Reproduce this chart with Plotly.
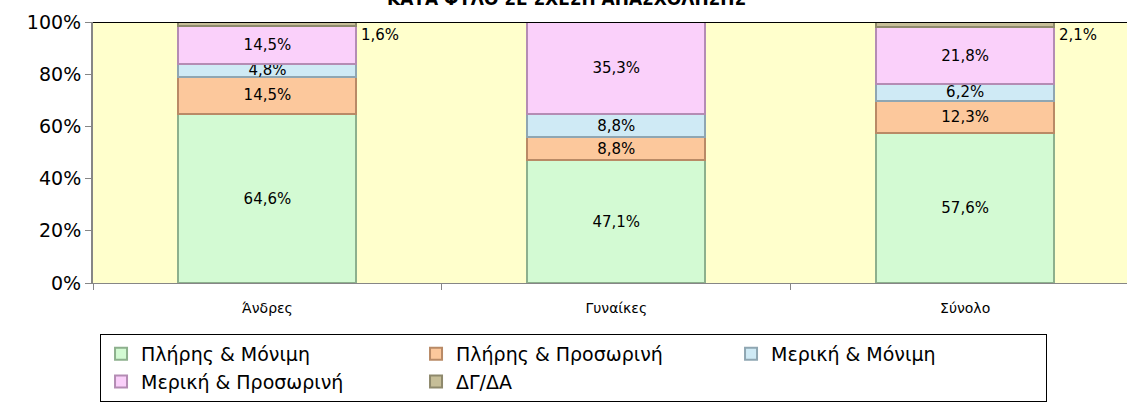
import plotly.graph_objects as go

categories = ["Άνδρες", "Γυναίκες", "Σύνολο"]
series_names = ["Πλήρης & Μόνιμη", "Πλήρης & Προσωρινή", "Μερική & Μόνιμη",
                "Μερική & Προσωρινή", "ΔΓ/ΔΑ"]
full_perm = [64.6, 47.1, 57.6]
full_temp = [14.5, 8.8, 12.3]
part_perm = [4.8, 8.8, 6.2]
part_temp = [14.5, 35.3, 21.8]
na_vals = [1.6, 0.0, 2.1]
y_ticks = [0, 20, 40, 60, 80, 100]
y_tick_labels = ["0%", "20%", "40%", "60%", "80%", "100%"]
title_text = "ΚΑΤΑ ΦΥΛΟ ΣΕ ΣΧΕΣΗ ΑΠΑΣΧΟΛΗΣΗΣ"

FONT = "DejaVu Sans"
fills = ["#D3FAD3", "#FCC89C", "#CFEAF5", "#FAD0FA", "#C6BE98"]
lines = ["#8DB08D", "#B98A66", "#8FA6B2", "#B48CB4", "#8E896C"]

fig = go.Figure()
all_series = [full_perm, full_temp, part_perm, part_temp, na_vals]
for i, (name, vals) in enumerate(zip(series_names, all_series)):
    show_text = i < 4
    fig.add_trace(go.Bar(
        x=categories, y=vals, name=name, width=0.51,
        marker=dict(color=fills[i], line=dict(color=lines[i], width=2)),
        texttemplate="%{y:.1f}%" if show_text else None,
        textposition="inside" if show_text else "none",
        insidetextanchor="middle", textangle=0,
        textfont=dict(size=15, color="black", family=FONT),
    ))

# ΔΓ/ΔΑ labels sit outside, to the right of each bar top
for cat, v in zip(categories, na_vals):
    if v > 0:
        fig.add_annotation(x=cat, y=100, text=f"{v:.1f}%".replace(".", ","),
                           xanchor="left", yanchor="top", xshift=92, yshift=-2,
                           showarrow=False,
                           font=dict(size=15, color="black", family=FONT))

# title, mostly cut off at the top like the original
fig.add_annotation(xref="paper", yref="paper", x=0.458, y=1, xanchor="center",
                   yanchor="bottom", yshift=11, showarrow=False, text=title_text,
                   font=dict(size=17, family=FONT, color="black", weight="bold"))

fig.add_shape(type="line", xref="paper", yref="y", x0=0, x1=1, y0=100, y1=100,
              line=dict(color="black", width=2))

fig.update_layout(
    width=1127, height=405,
    barmode="stack", bargap=0.49,
    separators=",.",
    paper_bgcolor="white", plot_bgcolor="#FFFFCC",
    margin=dict(l=93, r=0, t=22, b=122, autoexpand=False),
    font=dict(family=FONT, color="black"),
    uniformtext=dict(minsize=15, mode="show"),
    legend=dict(orientation="h", x=0.0068, xanchor="left", y=-0.195, yanchor="top",
                entrywidth=270, entrywidthmode="pixels",
                bordercolor="black", borderwidth=1, bgcolor="white",
                font=dict(size=19, family=FONT, color="black"),
                traceorder="normal", itemsizing="constant"),
)
fig.update_xaxes(range=[-0.5, 2.464], showline=True, linecolor="#868686", linewidth=1,
                 ticks="outside", tickson="boundaries", ticklen=6, tickcolor="#868686",
                 tickfont=dict(size=14), ticklabelstandoff=12,
                 showgrid=False, automargin=False)
fig.update_yaxes(range=[0, 100], tickvals=y_ticks, ticktext=y_tick_labels,
                 showline=True, linecolor="#868686", linewidth=2, ticks="outside",
                 ticklen=6, tickcolor="#868686", tickfont=dict(size=19),
                 showgrid=False, zeroline=False, automargin=False)

fig.write_html("out.html", config={"displayModeBar": False},
               post_script="document.body.style.margin='0';")
